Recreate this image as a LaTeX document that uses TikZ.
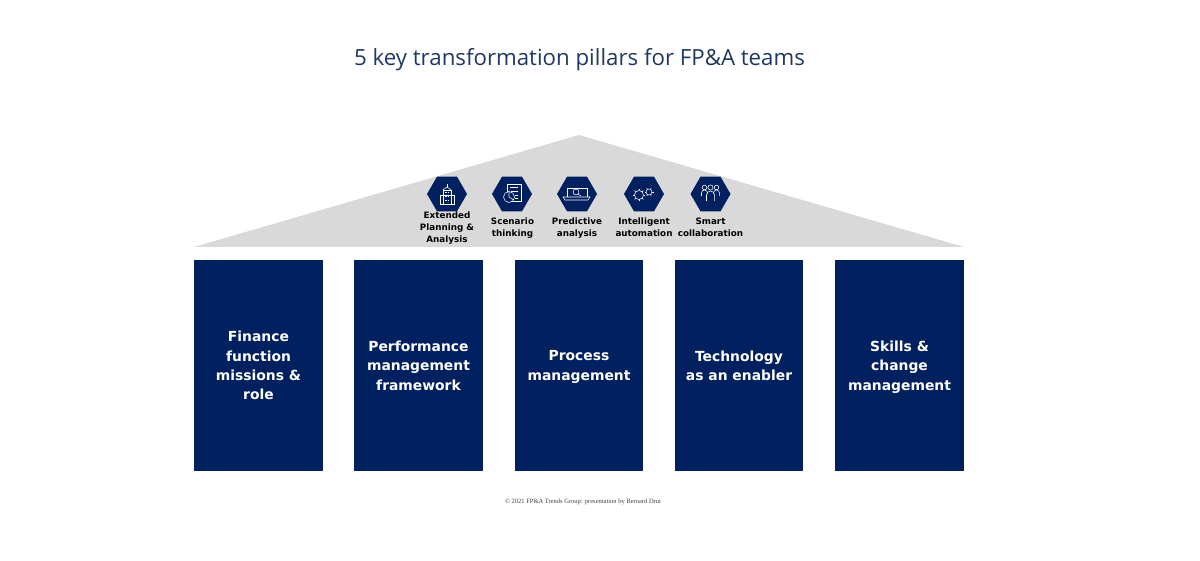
\documentclass[tikz,border=0pt]{standalone}
\usepackage{fontspec}
\setmainfont{DejaVu Sans}
\newfontfamily\titlefont{Open Sans}
\newfontfamily\footfont{Liberation Serif}
\usetikzlibrary{shapes.geometric}
\definecolor{navy}{HTML}{002060}
\definecolor{roofgrey}{HTML}{D9D9D9}
\definecolor{titleblue}{HTML}{1F3864}
\tikzset{
  pillar/.style={fill=navy, text=white, minimum width=2.57cm, minimum height=4.22cm, inner sep=0pt, align=center, text depth=0pt, font=\fontsize{7.9}{10.95}\selectfont\bfseries},
  hexa/.style={regular polygon, regular polygon sides=6, fill=navy, minimum size=0.8cm, inner sep=0pt},
  hexalabel/.style={align=center, inner sep=0pt, execute at end node=\vphantom{g}, font=\fontsize{5}{6.8}\selectfont\bfseries},
  icon/.style={draw=white, line width=0.3pt, x=0.02cm, y=0.02cm}
}
\begin{document}
\begin{tikzpicture}
  \useasboundingbox (0,0) rectangle (24,11.2);

  \node[font=\titlefont\fontsize{12.67}{15}\selectfont, text=titleblue] (title) at (11.59,10.01) {5 key transformation pillars for FP\&A teams};

  % roof
  \coordinate (roofl) at (3.88,6.26);
  \coordinate (roofr) at (19.28,6.26);
  \coordinate (rooft) at (11.58,8.5);
  \fill[roofgrey] (roofl)--(rooft)--(roofr)--cycle;

  % pillars
  \node[pillar] (finance) at (5.17,3.89) {Finance\\function\\missions \&\\role};
  \node[pillar] (performance) at (8.37,3.89) {Performance\\management\\framework};
  \node[pillar] (process) at (11.58,3.89) {Process\\management};
  \node[pillar] (technology) at (14.78,3.89) {Technology\\as an enabler};
  \node[pillar] (skills) at (17.99,3.89) {Skills \&\\change\\management};

  % hexagons
  \node[hexa] (epa) at (8.94,7.32) {};
  \node[hexa] (scenario) at (10.24,7.32) {};
  \node[hexa] (predictive) at (11.54,7.32) {};
  \node[hexa] (automation) at (12.88,7.32) {};
  \node[hexa] (collab) at (14.21,7.32) {};

  \node[hexalabel] (epatext) at (8.94,6.64) {Extended\\Planning \&\\Analysis};
  \node[hexalabel] (scenariotext) at (10.25,6.64) {Scenario\\thinking};
  \node[hexalabel] (predictivetext) at (11.54,6.64) {Predictive\\analysis};
  \node[hexalabel] (automationtext) at (12.88,6.64) {Intelligent\\automation};
  \node[hexalabel] (collabtext) at (14.21,6.64) {Smart\\collaboration};

  % icons, one px = 0.02cm
  \begin{scope}[shift={(epa.center)}, icon]
    \draw (-7,-10) rectangle (7,-1);
    \draw (-4,-10) -- (-4,4) -- (4,4) -- (4,-10);
    \draw (-4,4) -- (0,7) -- (4,4);
    \draw (0,7) -- (0,10);
    \foreach \yy in {-6,-2,2} {\draw (-2,\yy) -- (-0.5,\yy) (0.5,\yy) -- (2,\yy);}
  \end{scope}
  \begin{scope}[shift={(scenario.center)}, icon]
    \draw (-5,-7) -- (9,-7) -- (9,10) -- (-5,10) -- (-5,0);
    \draw (-2,7) -- (6,7) (-1,3) -- (6,3) (3,-1) -- (6,-1) (3,-4) -- (6,-4);
    \draw[fill=navy] (-3,-3) circle (5.5);
    \draw (-3,-3) -- (-3,2.5) (-3,-3) -- (1.5,-6);
  \end{scope}
  \begin{scope}[shift={(predictive.center)}, icon]
    \draw (-10,-3) -- (-10,6) -- (10,6) -- (10,-3);
    \draw (-14,-3) -- (13,-3) -- (11,-6) -- (-12,-6) -- cycle;
    \draw (-1,2) circle (3);
    \draw (1,0) -- (4,-2);
  \end{scope}
  \begin{scope}[shift={(automation.center)}, icon]
    \draw (-5,-1) circle (4.5);
    \draw (5,2) circle (3);
    \foreach \aa in {0,45,...,315} {\draw (-5,-1) ++(\aa:4.5) -- ++(\aa:1.7);}
    \foreach \aa in {0,60,...,300} {\draw (5,2) ++(\aa:3) -- ++(\aa:1.5);}
  \end{scope}
  \begin{scope}[shift={(collab.center)}, icon]
    \draw (-9,-2) -- (-9,1) arc (180:0:3) (-3,1) -- (-3,0);
    \draw (3,0) -- (3,1) arc (180:0:3) -- (9,-2);
    \draw (-4,-7) -- (-4,-1) arc (180:0:4) -- (4,-7);
    \draw (-6,6.5) circle (2.3) (6,6.5) circle (2.3) (0,6.5) circle (2.6);
  \end{scope}

  \node[font=\footfont\fontsize{3.7}{5}\selectfont, text=black!75] (copyright) at (11.66,1.17) {© 2021 FP\&A Trends Group: presentation by Bernard Drui};
\end{tikzpicture}
\end{document}
